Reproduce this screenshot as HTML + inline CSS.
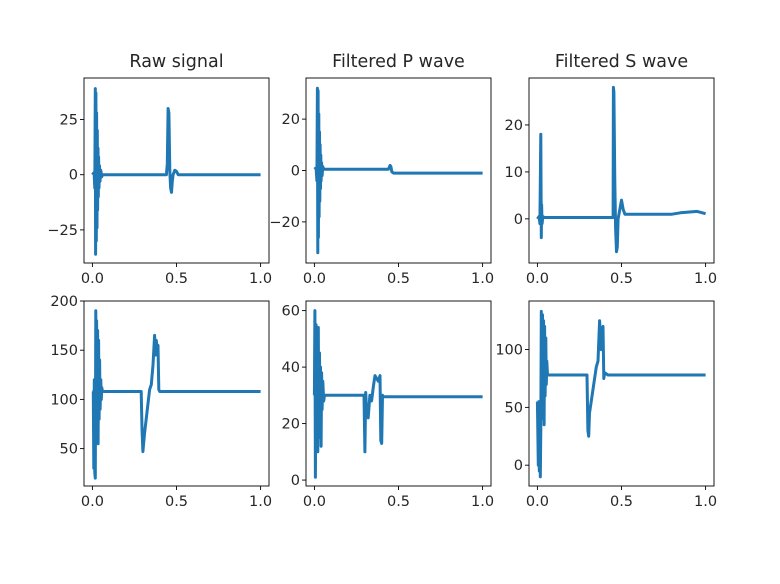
<!DOCTYPE html>
<html><head><meta charset="utf-8"><style>
html,body{margin:0;padding:0;background:#fff;}
svg text{font-family:"DejaVu Sans","Liberation Sans",sans-serif;fill:#262626;}
</style></head><body>
<svg id="fig" width="780" height="579" xmlns="http://www.w3.org/2000/svg"></svg>
<script>
// Panel data (x in 0..1, y in data units)
const rawX = [0,0.01,0.014,0.017,0.019,0.021,0.023,0.025,0.027,0.029,0.031,0.033,0.035,0.037,0.039,0.042,0.045,0.05,0.055,0.06,0.44,0.445,0.45,0.455,0.46,0.465,0.47,0.475,0.48,0.49,0.5,0.51,0.52,1.0];
const rawY = [0,1,-6,39,-36,37,-30,28,-24,20,-16,12,-10,8,-6,4,-3,2,-1,0,0,5,30,28,2,-6,-8,-3,0,2,1.5,0,0,0];
const pX = [0,0.01,0.015,0.018,0.02,0.022,0.024,0.026,0.028,0.03,0.032,0.034,0.036,0.038,0.04,0.043,0.046,0.05,0.055,0.06,0.44,0.45,0.455,0.46,0.47,1.0];
const pY = [0.5,1,-4,32,-32,31,-26,22,-18,15,-12,10,-7,6,-4,3,-2,1.5,0.5,0.5,0.5,2,1.5,-0.5,-1,-1];
const sX = [0,0.01,0.015,0.02,0.023,0.025,0.028,0.032,0.04,0.45,0.452,0.455,0.46,0.465,0.47,0.475,0.48,0.49,0.5,0.51,0.52,0.8,0.85,0.95,1.0];
const sY = [0,0.5,-1,18,-4,3,-1,0.5,0.3,0.3,28,27,8,-2,-7,-6,0,2,4,2,1,1,1.3,1.6,1.1];
const rawEX = [0,0.005,0.008,0.011,0.014,0.017,0.02,0.022,0.025,0.028,0.031,0.034,0.037,0.04,0.043,0.046,0.05,0.053,0.056,0.06,0.29,0.295,0.3,0.31,0.32,0.33,0.34,0.35,0.36,0.365,0.37,0.375,0.38,0.385,0.39,0.395,0.4,1.0];
const rawEY = [108,108,30,120,25,20,190,60,180,70,170,55,160,80,140,90,120,100,112,108,108,70,47,65,80,95,110,115,135,150,165,145,160,150,155,110,108,108];
const pEX = [0,0.003,0.006,0.01,0.013,0.016,0.02,0.023,0.026,0.03,0.033,0.036,0.04,0.043,0.046,0.05,0.055,0.06,0.29,0.295,0.3,0.305,0.31,0.32,0.33,0.34,0.35,0.36,0.37,0.38,0.39,0.395,0.4,0.405,0.41,1.0];
const pEY = [30,60,1,55,20,50,10,54,15,45,22,40,12,38,25,35,28,30,30,30,10,31,25,22,30,28,33,37,36,35,37,14,13,30,29.5,29.5];
const sEX = [0,0.005,0.008,0.011,0.014,0.017,0.02,0.023,0.026,0.03,0.033,0.036,0.04,0.043,0.046,0.05,0.053,0.056,0.06,0.295,0.3,0.305,0.31,0.32,0.33,0.34,0.35,0.36,0.37,0.375,0.38,0.385,0.39,0.395,0.4,0.42,1.0];
const sEY = [55,0,55,-5,50,-10,30,133,40,130,50,125,35,120,60,110,70,90,78,78,30,25,45,55,65,75,85,90,125,110,100,115,120,75,80,78,78];

const ticksX = [0,0.5,1.0];
const tickLblX = ["0.0","0.5","1.0"];

const panels = [
 {name:"raw-signal",title:"Raw signal",x:84,y:78,xs:rawX,ys:rawY,ymin:-40,ymax:43.8,ticks:[-25,0,25],lbls:["\u221225","0","25"]},
 {name:"filtered-p-wave",title:"Filtered P wave",x:306,y:78,xs:pX,ys:pY,ymin:-36,ymax:36,ticks:[-20,0,20],lbls:["\u221220","0","20"]},
 {name:"filtered-s-wave",title:"Filtered S wave",x:529,y:78,xs:sX,ys:sY,ymin:-9.4,ymax:30,ticks:[0,10,20],lbls:["0","10","20"]},
 {name:"envelope-raw",title:"",x:84,y:301,xs:rawEX,ys:rawEY,ymin:12,ymax:200,ticks:[50,100,150,200],lbls:["50","100","150","200"]},
 {name:"envelope-p",title:"",x:306,y:301,xs:pEX,ys:pEY,ymin:-2.1,ymax:63.4,ticks:[0,20,40,60],lbls:["0","20","40","60"]},
 {name:"envelope-s",title:"",x:529,y:301,xs:sEX,ys:sEY,ymin:-18,ymax:142,ticks:[0,50,100],lbls:["0","50","100"]}
];
const NS="http://www.w3.org/2000/svg";
const fig=document.getElementById('fig');
function mk(tag,attrs,parent){const e=document.createElementNS(NS,tag);for(const k in attrs)e.setAttribute(k,attrs[k]);(parent||fig).appendChild(e);return e;}
const W=185,H=185;
panels.forEach(p=>{
  const g=mk('g',{});
  
  
  const sx=v=>p.x+(v+0.05)/1.1*W;
  const sy=v=>p.y+H-(v-p.ymin)/(p.ymax-p.ymin)*H;
  const pts=p.xs.map((v,i)=>sx(v).toFixed(1)+','+sy(p.ys[i]).toFixed(1)).join(' ');
  const line=mk('polyline',{points:pts,fill:'none',stroke:'#1f77b4','stroke-width':3,'stroke-linejoin':'round'},g);
  
  
  const fr=mk('rect',{x:p.x,y:p.y,width:W,height:H,fill:'none',stroke:'#000','stroke-width':0.9},g);
  
  
  ticksX.forEach((t,i)=>{
    const X=sx(t);
    mk('line',{x1:X,x2:X,y1:p.y+H,y2:p.y+H+4,stroke:'#000','stroke-width':0.9},g);
    const tx=mk('text',{x:X,y:p.y+H+20,'text-anchor':'middle','font-size':14.5},g);
    tx.textContent=tickLblX[i];
    
    
  });
  p.ticks.forEach((t,i)=>{
    const Y=sy(t);
    mk('line',{x1:p.x-4,x2:p.x,y1:Y,y2:Y,stroke:'#000','stroke-width':0.9},g);
    const ty=mk('text',{x:p.x-6,y:Y+5,'text-anchor':'end','font-size':14.5},g);
    ty.textContent=p.lbls[i];
    
    
  });
  if(p.title){
    const tt=mk('text',{x:p.x+W/2,y:p.y-11,'text-anchor':'middle','font-size':17.5},g);
    tt.textContent=p.title;
    
    
  }
});
</script>
</body></html>
